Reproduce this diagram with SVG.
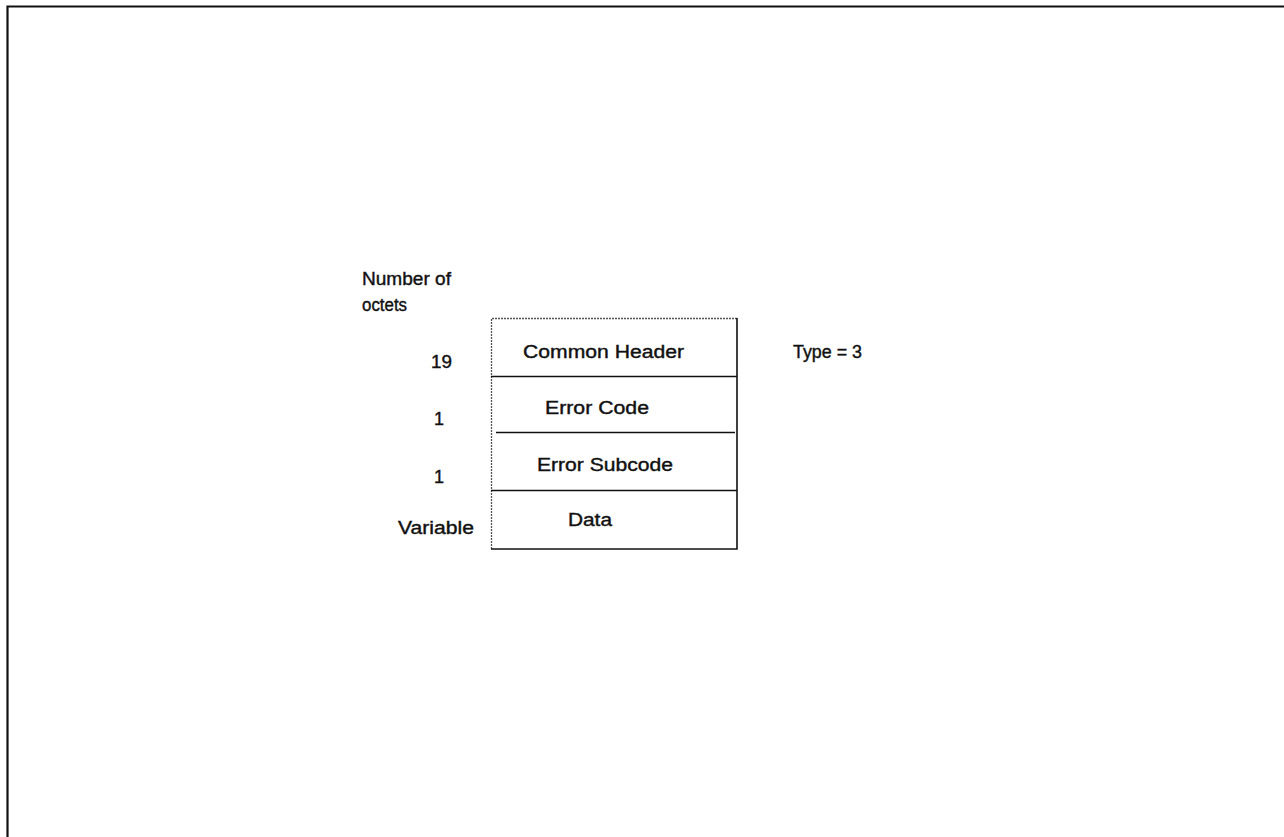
<svg xmlns="http://www.w3.org/2000/svg" width="1284" height="837" viewBox="0 0 1284 837">
<style>
.t{font-family:"Liberation Sans",Arial,sans-serif;font-size:18px;fill:#111;stroke:#111;stroke-width:0.4}
.ln{stroke:#111;stroke-width:1.6;fill:none}
.lt{stroke:#555;stroke-width:1.3;stroke-dasharray:2 1;fill:none}
</style>
<rect width="1284" height="837" fill="#fff"/>
<g id="frame">
<path d="M7.5,837 V6.5 H1284" stroke="#111" stroke-width="2.2" fill="none"/>
</g>
<g id="labels">
<text class="t" x="362" y="285" textLength="89" lengthAdjust="spacingAndGlyphs">Number of</text>
<text class="t" x="362" y="311" textLength="45" lengthAdjust="spacingAndGlyphs">octets</text>
<text class="t" x="431" y="368" textLength="21" lengthAdjust="spacingAndGlyphs">19</text>
<text class="t" x="434" y="425">1</text>
<text class="t" x="434" y="483">1</text>
<text class="t" x="398" y="534" textLength="76" lengthAdjust="spacingAndGlyphs">Variable</text>
</g>
<g id="box">
<path class="lt" d="M491.5,549 V318.5 H737"/>
<path class="ln" d="M737,318 V549 H491"/>
</g>
<g id="common-header">
<text class="t" x="523" y="358" textLength="161" lengthAdjust="spacingAndGlyphs">Common Header</text>
<line class="ln" x1="491" y1="376.5" x2="737" y2="376.5"/>
</g>
<g id="error-code">
<text class="t" x="545" y="414" textLength="104" lengthAdjust="spacingAndGlyphs">Error Code</text>
<line class="ln" x1="496" y1="432.5" x2="735" y2="432.5"/>
</g>
<g id="error-subcode">
<text class="t" x="537" y="471" textLength="136" lengthAdjust="spacingAndGlyphs">Error Subcode</text>
<line class="ln" x1="491" y1="490.5" x2="737" y2="490.5"/>
</g>
<g id="data">
<text class="t" x="568" y="526" textLength="44" lengthAdjust="spacingAndGlyphs">Data</text>
</g>
<g id="type">
<text class="t" x="793" y="358" textLength="69" lengthAdjust="spacingAndGlyphs">Type = 3</text>
</g>
</svg>
